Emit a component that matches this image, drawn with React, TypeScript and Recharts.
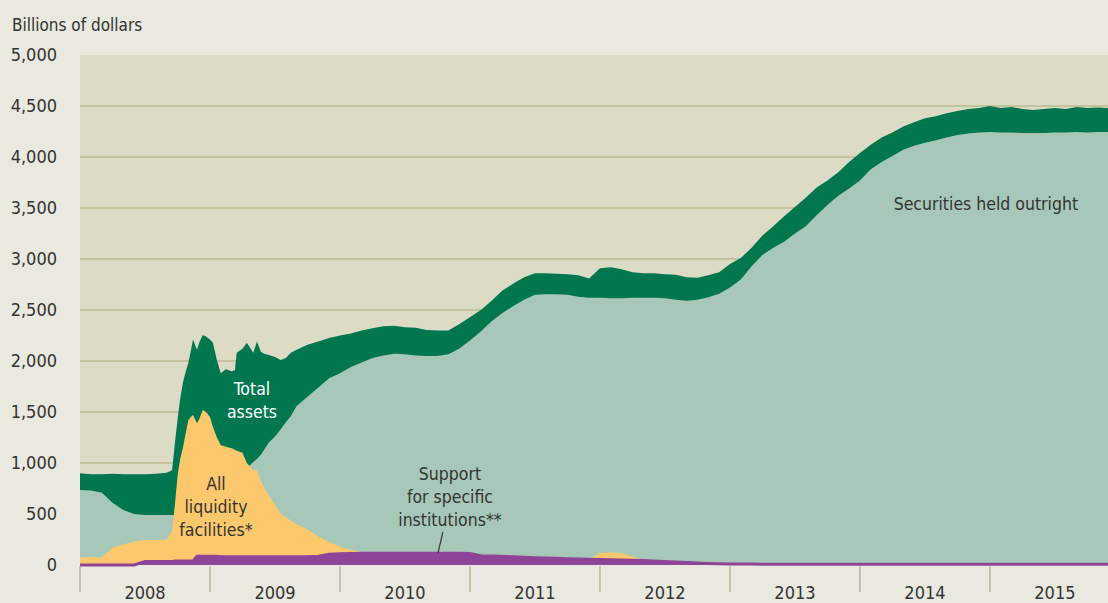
import React from "react"
import {
  AreaChart, Area, XAxis, YAxis, CartesianGrid,
  ReferenceDot, ReferenceLine, Label,
} from "recharts"

const FONT = '"DejaVu Sans Condensed", "Liberation Sans Narrow", sans-serif'
const TEXT = "#333333"

// observation dates (weekly detail kept only around the 2008-09 crisis)
const dates = [
  "2008-01-01", "2008-02-01", "2008-03-01", "2008-04-01", "2008-05-01", "2008-06-01",
  "2008-07-01", "2008-08-01", "2008-09-01", "2008-09-16", "2008-09-24", "2008-10-02",
  "2008-10-08", "2008-10-16", "2008-10-24", "2008-11-01", "2008-11-08", "2008-11-14",
  "2008-11-25", "2008-12-01", "2008-12-11", "2008-12-20",
  "2009-01-01", "2009-01-09", "2009-01-20", "2009-02-01", "2009-02-15", "2009-03-01",
  "2009-03-10", "2009-03-15", "2009-04-01", "2009-04-13", "2009-05-01", "2009-05-11",
  "2009-05-22", "2009-06-01", "2009-06-14", "2009-07-01", "2009-07-17", "2009-08-01",
  "2009-08-15", "2009-09-01", "2009-10-01", "2009-11-01", "2009-12-01",
  "2010-01-01", "2010-02-01", "2010-03-01", "2010-04-01", "2010-05-01", "2010-06-01",
  "2010-07-01", "2010-08-01", "2010-09-01", "2010-10-01", "2010-11-01", "2010-12-01",
  "2011-01-01", "2011-02-01", "2011-03-01", "2011-04-01", "2011-05-01", "2011-06-01",
  "2011-07-01", "2011-08-01", "2011-09-01", "2011-10-01", "2011-11-01", "2011-12-01",
  "2012-01-01", "2012-02-01", "2012-03-01", "2012-04-01", "2012-05-01", "2012-06-01",
  "2012-07-01", "2012-08-01", "2012-09-01", "2012-10-01", "2012-11-01", "2012-12-01",
  "2013-01-01", "2013-02-01", "2013-03-01", "2013-04-01", "2013-05-01", "2013-06-01",
  "2013-07-01", "2013-08-01", "2013-09-01", "2013-10-01", "2013-11-01", "2013-12-01",
  "2014-01-01", "2014-02-01", "2014-03-01", "2014-04-01", "2014-05-01", "2014-06-01",
  "2014-07-01", "2014-08-01", "2014-09-01", "2014-10-01", "2014-11-01", "2014-12-01",
  "2015-01-01", "2015-02-01", "2015-03-01", "2015-04-01", "2015-05-01", "2015-06-01",
  "2015-07-01", "2015-08-01", "2015-09-01", "2015-10-01", "2015-11-01", "2015-11-28",
]

// billions of dollars
const totalAssets = [
  900, 890, 890, 895, 890, 890, 890, 895, 905, 930, 1200, 1450,
  1620, 1790, 1900, 1980, 2100, 2210, 2110, 2180, 2255, 2240,
  2210, 2180, 2010, 1880, 1920, 1900, 1910, 2080, 2120, 2180, 2080, 2190,
  2090, 2070, 2060, 2040, 2010, 2030, 2080, 2110, 2160, 2190, 2225,
  2250, 2270, 2300, 2320, 2340, 2345, 2330, 2325, 2305, 2300, 2300, 2360,
  2430, 2500, 2590, 2690, 2760, 2820, 2860, 2860, 2855, 2850, 2840, 2810,
  2910, 2920, 2900, 2870, 2860, 2860, 2850, 2845, 2820, 2815, 2840, 2870,
  2950, 3010, 3110, 3230, 3320, 3420, 3510, 3600, 3700, 3770, 3850, 3950,
  4040, 4120, 4190, 4240, 4300, 4340, 4380, 4400, 4430, 4450, 4470, 4480,
  4500, 4480, 4490, 4470, 4460, 4470, 4480, 4470, 4490, 4480, 4485, 4480,
]

const securities = [
  735, 730, 710, 610, 540, 500, 490, 490, 490, 490, 490, 490,
  490, 490, 490, 490, 490, 490, 490, 490, 490, 490,
  490, 490, 490, 490, 520, 600, 650, 680, 780, 950, 1010, 1040,
  1080, 1130, 1200, 1260, 1330, 1400, 1460, 1560, 1650, 1740, 1830,
  1880, 1940, 1985, 2030, 2055, 2070, 2065, 2055, 2050, 2050, 2065, 2120,
  2200, 2290, 2390, 2470, 2540, 2600, 2650, 2655, 2655, 2650, 2630, 2620,
  2620, 2615, 2615, 2620, 2620, 2620, 2615, 2600, 2590, 2600, 2625, 2660,
  2720, 2800, 2930, 3040, 3110, 3170, 3250, 3320, 3430, 3530, 3620, 3690,
  3770, 3880, 3950, 4010, 4070, 4110, 4140, 4165, 4190, 4215, 4230, 4240,
  4245, 4240, 4240, 4235, 4235, 4235, 4240, 4240, 4245, 4240, 4245, 4245,
]

const liquidity = [
  70, 80, 70, 170, 200, 230, 245, 245, 250, 330, 600, 900,
  1030, 1150, 1300, 1420, 1450, 1470, 1390, 1430, 1520, 1500,
  1450, 1355, 1250, 1175, 1160, 1145, 1130, 1120, 1100, 1000, 930, 930,
  820, 760, 680, 590, 505, 470, 435, 400, 350, 280, 225,
  180, 150, 128, 112, 100, 95, 90, 85, 80, 75, 70, 65,
  60, 50, 40, 30, 25, 20, 15, 12, 10, 10, 15, 60,
  118, 122, 118, 80, 50, 45, 40, 34, 28, 22, 16, 12,
  6, 4, 3, 2, 2, 1, 1, 1, 1, 1, 1, 1,
  0, 0, 0, 0, 0, 0, 0, 0, 0, 0, 0, 0,
  0, 0, 0, 0, 0, 0, 0, 0, 0, 0, 0, 0,
]

const support = [
  0, 0, 0, 0, 0, 0, 35, 35, 35, 35, 40, 40,
  40, 40, 40, 40, 40, 40, 85, 85, 85, 85,
  85, 85, 85, 80, 80, 80, 80, 80, 80, 80, 80, 80,
  80, 80, 80, 80, 80, 80, 80, 80, 80, 85, 105,
  110, 112, 115, 115, 115, 115, 115, 115, 115, 115, 115, 115,
  112, 90, 88, 85, 80, 76, 72, 68, 65, 62, 60, 57,
  55, 52, 50, 47, 44, 40, 35, 30, 25, 20, 15, 12,
  10, 9, 9, 8, 8, 8, 8, 8, 8, 8, 8, 8,
  8, 8, 8, 8, 8, 8, 8, 8, 8, 8, 8, 8,
  8, 8, 8, 8, 8, 8, 8, 8, 8, 8, 8, 8,
]

const yTicks = [0, 500, 1000, 1500, 2000, 2500, 3000, 3500, 4000, 4500, 5000]
const gridValues = [500, 1000, 1500, 2000, 2500, 3000, 3500, 4000, 4500]
// year boundaries get a tick line, mid-years carry the label
const xTicks = [
  2008, 2008.5, 2009, 2009.5, 2010, 2010.5, 2011, 2011.5,
  2012, 2012.5, 2013, 2013.5, 2014, 2014.5, 2015, 2015.5,
]

function toYear(d: string) {
  const [y, m, day] = d.split("-").map(Number)
  return y + (m - 1 + (day - 1) / 30) / 12
}

const data = dates.map((d, i) => ({
  t: toYear(d),
  total: totalAssets[i],
  securities: securities[i],
  liquidity: liquidity[i],
  support: support[i],
}))

function YearTick(props: any) {
  const { x, y, payload } = props
  const v = payload.value
  if (Number.isInteger(v)) {
    return <line x1={x} x2={x} y1={y + 1} y2={y + 27} stroke="#b9b78e" strokeWidth={1.5} />
  }
  return (
    <text x={x} y={y + 34} textAnchor="middle" fill={TEXT} fontSize={18} fontFamily={FONT}>
      {Math.floor(v)}
    </text>
  )
}

function MultiLine(props: any) {
  const { viewBox, lines, color } = props
  const cx = viewBox.x + viewBox.width / 2
  const cy = viewBox.y + viewBox.height / 2
  return (
    <text x={cx} y={cy} textAnchor="middle" fill={color} fontSize={17.5} fontFamily={FONT}>
      {lines.map((l: string, i: number) => (
        <tspan key={i} x={cx} dy={i === 0 ? 0 : 23}>{l}</tspan>
      ))}
    </text>
  )
}

function Note({ x, y, lines, color }: { x: number; y: number; lines: string[]; color: string }) {
  return (
    <ReferenceDot x={x} y={y} r={1} fill="none" stroke="none">
      <Label content={(p: any) => <MultiLine {...p} lines={lines} color={color} />} />
    </ReferenceDot>
  )
}

export default function App() {
  return (
    <div style={{ position: "absolute", left: 0, top: 0, width: 1108, height: 603, background: "#eae9df", fontFamily: FONT }}>
      <div style={{ position: "absolute", left: 12, top: 15, fontSize: 17, lineHeight: "21px", color: TEXT }}>
        Billions of dollars
      </div>
      <AreaChart width={1108} height={603} data={data} margin={{ top: 55, right: 0, bottom: 0, left: 0 }}>
        <CartesianGrid vertical={false} fill="#dcdbc6" stroke="#bdbb93" strokeWidth={1.5} horizontalValues={gridValues} />
        <XAxis
          dataKey="t" type="number" domain={["dataMin", "dataMax"]} ticks={xTicks} interval={0}
          tickLine={false} axisLine={false} tickSize={0} tickMargin={0} height={38}
          tick={(p: any) => <YearTick {...p} />}
        />
        <YAxis
          domain={[0, 5000]} ticks={yTicks} width={80} interval={0}
          tickLine={false} axisLine={false} tickSize={0} tickMargin={23}
          tick={{ fill: TEXT, fontSize: 18 }}
          tickFormatter={(v: number) => v.toLocaleString("en-US")}
        />
        <Area type="linear" dataKey="total" fill="#00774f" fillOpacity={1} stroke="none" isAnimationActive={false} />
        <Area type="linear" dataKey="securities" fill="#a7c8b8" fillOpacity={1} stroke="none" isAnimationActive={false} />
        <Area type="linear" dataKey="liquidity" fill="#fdc86c" fillOpacity={1} stroke="none" isAnimationActive={false} />
        <Area type="linear" dataKey="support" fill="#8e4497" fillOpacity={1} stroke="#8e4497" strokeWidth={3} isAnimationActive={false} />

        <Note x={2009.323} y={1667} lines={["Total", "assets"]} color="#ffffff" />
        <Note x={2009.046} y={735} lines={["All", "liquidity", "facilities*"]} color={TEXT} />
        <Note x={2010.846} y={833} lines={["Support", "for specific", "institutions**"]} color={TEXT} />
        <Note x={2014.969} y={3480} lines={["Securities held outright"]} color={TEXT} />
        <ReferenceLine segment={[{ x: 2010.792, y: 324 }, { x: 2010.754, y: 118 }]} stroke={TEXT} strokeWidth={1.2} />
      </AreaChart>
    </div>
  )
}
